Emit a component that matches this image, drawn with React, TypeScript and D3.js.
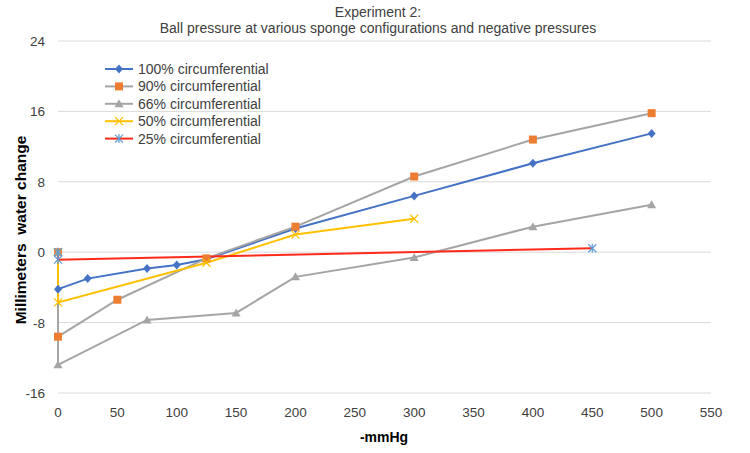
import React from "react";
import * as d3 from "d3";

const seriesNames = ["100% circumferential", "90% circumferential", "66% circumferential", "50% circumferential", "25% circumferential"];
const x100 = [0, 0, 25, 75, 100, 125, 200, 300, 400, 500];
const y100 = [0, -4.2, -3.0, -1.85, -1.45, -0.8, 2.7, 6.4, 10.1, 13.5];
const x90 = [0, 0, 50, 125, 200, 300, 400, 500];
const y90 = [0, -9.6, -5.4, -0.7, 2.9, 8.6, 12.8, 15.8];
const x66 = [0, 0, 75, 150, 200, 300, 400, 500];
const y66 = [0, -12.8, -7.7, -6.9, -2.8, -0.6, 2.9, 5.4];
const x50 = [0, 0, 125, 200, 300];
const y50 = [0, -5.7, -1.2, 2.0, 3.8];
const x25 = [0, 0, 450];
const y25 = [0, -0.85, 0.45];
const xTicks = [0, 50, 100, 150, 200, 250, 300, 350, 400, 450, 500, 550];
const yTicks = [-16, -8, 0, 8, 16, 24];

const lineColors = ["#4472C4", "#A5A5A5", "#A5A5A5", "#FFC000", "#FF2A1A"];
const markerColors = ["#4472C4", "#ED7D31", "#A5A5A5", "#FFC000", "#5B9BD5"];
const markerTypes = ["diamond", "square", "triangle", "x", "star"];

const W = 750, H = 453;
const left = 58, right = 711, top = 41, bottom = 393;
const font = "'Liberation Sans', Arial, sans-serif";

function Marker({ type, color, cx, cy }: { type: string; color: string; cx: number; cy: number }) {
  if (type === "diamond") {
    return <path d={`M${cx},${cy - 4.5}L${cx + 4},${cy}L${cx},${cy + 4.5}L${cx - 4},${cy}Z`} fill={color} />;
  }
  if (type === "square") {
    return <rect x={cx - 4} y={cy - 4} width={8} height={8} fill={color} />;
  }
  if (type === "triangle") {
    return <path d={`M${cx},${cy - 4.5}L${cx + 4.5},${cy + 3.5}L${cx - 4.5},${cy + 3.5}Z`} fill={color} />;
  }
  if (type === "x") {
    return (
      <g stroke={color} strokeWidth={1.2}>
        <line x1={cx - 4} y1={cy - 4} x2={cx + 4} y2={cy + 4} />
        <line x1={cx - 4} y1={cy + 4} x2={cx + 4} y2={cy - 4} />
      </g>
    );
  }
  return (
    <g stroke={color} strokeWidth={1.2}>
      <line x1={cx - 4} y1={cy - 4} x2={cx + 4} y2={cy + 4} />
      <line x1={cx - 4} y1={cy + 4} x2={cx + 4} y2={cy - 4} />
      <line x1={cx} y1={cy - 4.5} x2={cx} y2={cy + 4.5} />
    </g>
  );
}

export default function App() {
  const x = d3.scaleLinear().domain([0, 550]).range([left, right]);
  const y = d3.scaleLinear().domain([-16, 24]).range([bottom, top]);
  const xs = [x100, x90, x66, x50, x25];
  const ys = [y100, y90, y66, y50, y25];
  const line = d3.line<[number, number]>().x((d) => x(d[0])).y((d) => y(d[1]));
  const data = xs.map((xa, i) => xa.map((v, j) => [v, ys[i][j]] as [number, number]));
  const drawOrder = [0, 1, 2, 3, 4];

  return (
    <svg width={W} height={H} style={{ position: "absolute", left: 0, top: 0 }} fontFamily={font}>
      <rect width={W} height={H} fill="#fff" />
      <text x={378} y={17} textAnchor="middle" fontSize={14} fill="#404040">Experiment 2:</text>
      <text x={378} y={33} textAnchor="middle" fontSize={14} fill="#404040">Ball pressure at various sponge configurations and negative pressures</text>
      {yTicks.map((t) => (
        <g key={t}>
          <line x1={left} x2={right} y1={y(t)} y2={y(t)} stroke="#D9D9D9" strokeWidth={1} />
          <text x={45} y={y(t) + 5} textAnchor="end" fontSize={13.5} fill="#404040">{t}</text>
        </g>
      ))}
      {xTicks.map((t) => (
        <text key={t} x={x(t)} y={417} textAnchor="middle" fontSize={13.5} fill="#404040">{t}</text>
      ))}
      <text x={384} y={442} textAnchor="middle" fontSize={14} fontWeight="bold" fill="#000">-mmHg</text>
      <text transform={`translate(26,230) rotate(-90)`} textAnchor="middle" fontSize={15.5} fontWeight="bold" fill="#000" style={{ whiteSpace: "pre" }}>Millimeters  water change</text>
      {drawOrder.map((i) => (
        <path key={"l" + i} d={line(data[i]) || ""} fill="none" stroke={lineColors[i]} strokeWidth={2} />
      ))}
      {drawOrder.map((i) => (
        <g key={"m" + i}>
          {data[i].map((d, j) => (
            <Marker key={j} type={markerTypes[i]} color={markerColors[i]} cx={x(d[0])} cy={y(d[1])} />
          ))}
        </g>
      ))}
      {seriesNames.map((n, i) => {
        const ly = 69 + i * 17.4;
        return (
          <g key={n}>
            <line x1={105} x2={133} y1={ly} y2={ly} stroke={lineColors[i]} strokeWidth={2} />
            <Marker type={markerTypes[i]} color={markerColors[i]} cx={119} cy={ly} />
            <text x={138} y={ly + 5} fontSize={14} fill="#404040">{n}</text>
          </g>
        );
      })}
    </svg>
  );
}
